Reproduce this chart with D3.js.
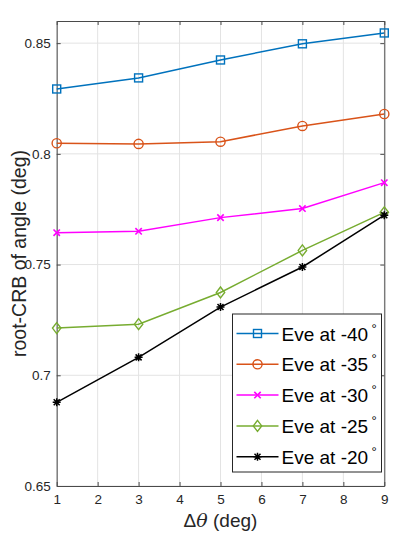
<!DOCTYPE html>
<html>
<head>
<meta charset="utf-8">
<script src="https://cdn.jsdelivr.net/npm/d3@7"></script>
<style>
  html, body { margin: 0; padding: 0; background: #fff; }
  svg { display: block; font-family: "Liberation Sans", Arial, sans-serif; }
</style>
</head>
<body>
<div id="chart"></div>
<script>
// Data
const dTheta = [1, 3, 5, 7, 9];
const eve40 = [0.8293, 0.8343, 0.8424, 0.8497, 0.8546];
const eve35 = [0.8048, 0.8045, 0.8055, 0.8126, 0.8180];
const eve30 = [0.7644, 0.7650, 0.7712, 0.7753, 0.7870];
const eve25 = [0.7213, 0.7231, 0.7374, 0.7564, 0.7736];
const eve20 = [0.6878, 0.7081, 0.7308, 0.7489, 0.7723];
const xTicks = [1, 2, 3, 4, 5, 6, 7, 8, 9];
const yTicks = [0.65, 0.7, 0.75, 0.8, 0.85];
const legendLabels = ["Eve at -40", "Eve at -35", "Eve at -30", "Eve at -25", "Eve at -20"];

const series = [
  { name: legendLabels[0], values: eve40, color: "#0072BD", marker: "square" },
  { name: legendLabels[1], values: eve35, color: "#D95319", marker: "circle" },
  { name: legendLabels[2], values: eve30, color: "#FF00FF", marker: "x" },
  { name: legendLabels[3], values: eve25, color: "#77AC30", marker: "diamond" },
  { name: legendLabels[4], values: eve20, color: "#000000", marker: "star" }
];

const W = 399, H = 533;
const M = { left: 56.7, right: W - 384.3, top: 21, bottom: H - 486 };
const AXIS = "#4a4a4a";
const GRID = "#e3e3e3";
const TEXT = "#262626";
const FONT = '"Liberation Sans", Arial, sans-serif';

const svg = d3.select("#chart").append("svg").attr("width", W).attr("height", H);

const x = d3.scaleLinear().domain([1, 9]).range([M.left, W - M.right]);
const y = d3.scaleLinear().domain([0.65, 0.86]).range([H - M.bottom, M.top]);

// grid
const grid = svg.append("g");
grid.selectAll("line.gx").data(xTicks).join("line")
  .attr("x1", (d) => x(d)).attr("x2", (d) => x(d))
  .attr("y1", y.range()[0]).attr("y2", y.range()[1])
  .attr("stroke", GRID).attr("stroke-width", 1);
grid.selectAll("line.gy").data(yTicks).join("line")
  .attr("y1", (d) => y(d)).attr("y2", (d) => y(d))
  .attr("x1", x.range()[0]).attr("x2", x.range()[1])
  .attr("stroke", GRID).attr("stroke-width", 1);

// axes (box with inward ticks)
const fmtY = (d) => (d === 0.7 ? "0.7" : d === 0.8 ? "0.8" : d3.format(".2f")(d));
function styleAxis(g) {
  g.attr("font-family", FONT).attr("font-size", 13.5);
  g.select(".domain").attr("stroke", AXIS).attr("stroke-width", 1);
  g.selectAll(".tick line").attr("stroke", AXIS);
  g.selectAll(".tick text").attr("fill", TEXT);
}
svg.append("g").attr("transform", `translate(0,${y.range()[0]})`)
  .call(d3.axisBottom(x).tickValues(xTicks).tickSizeInner(-4).tickSizeOuter(0).tickPadding(8).tickFormat(d3.format("d")))
  .call(styleAxis);
svg.append("g").attr("transform", `translate(0,${y.range()[1]})`)
  .call(d3.axisTop(x).tickValues(xTicks).tickSizeInner(-4).tickSizeOuter(0).tickFormat(""))
  .call(styleAxis);
svg.append("g").attr("transform", `translate(${x.range()[0]},0)`)
  .call(d3.axisLeft(y).tickValues(yTicks).tickSizeInner(-4).tickSizeOuter(0).tickPadding(6).tickFormat(fmtY))
  .call(styleAxis);
svg.append("g").attr("transform", `translate(${x.range()[1]},0)`)
  .call(d3.axisRight(y).tickValues(yTicks).tickSizeInner(-4).tickSizeOuter(0).tickFormat(""))
  .call(styleAxis);

// marker drawing
function drawMarker(g, type, color) {
  if (type === "square") {
    g.append("rect").attr("x", -4).attr("y", -4).attr("width", 8).attr("height", 8)
      .attr("fill", "none").attr("stroke", color).attr("stroke-width", 1.4);
  } else if (type === "circle") {
    g.append("circle").attr("r", 4.6).attr("fill", "none").attr("stroke", color).attr("stroke-width", 1.4);
  } else if (type === "x") {
    g.append("path").attr("d", "M-3.2,-3.2L3.2,3.2M-3.2,3.2L3.2,-3.2")
      .attr("stroke", color).attr("stroke-width", 1.6);
  } else if (type === "diamond") {
    g.append("path").attr("d", "M0,-5.5L4.2,0L0,5.5L-4.2,0Z")
      .attr("fill", "none").attr("stroke", color).attr("stroke-width", 1.4);
  } else if (type === "star") {
    g.append("path").attr("d", "M-4,0L4,0M0,-4L0,4M-3,-3L3,3M-3,3L3,-3")
      .attr("stroke", color).attr("stroke-width", 1.5);
  }
}

// lines
const line = d3.line().x((d, i) => x(dTheta[i])).y((d) => y(d));
const plot = svg.append("g");
series.forEach((s) => {
  plot.append("path").datum(s.values).attr("d", line)
    .attr("fill", "none").attr("stroke", s.color).attr("stroke-width", 1.5);
  plot.selectAll(null).data(s.values).join("g")
    .attr("transform", (d, i) => `translate(${x(dTheta[i])},${y(d)})`)
    .each(function () { drawMarker(d3.select(this), s.marker, s.color); });
});

// legend
const lg = svg.append("g").attr("transform", "translate(232.5,314)");
lg.append("rect").attr("width", 149).attr("height", 158)
  .attr("fill", "#fff").attr("stroke", TEXT).attr("stroke-width", 1);
series.forEach((s, i) => {
  const yy = 19.5 + i * 30.8;
  lg.append("line").attr("x1", 4).attr("x2", 46).attr("y1", yy).attr("y2", yy)
    .attr("stroke", s.color).attr("stroke-width", 1.5);
  drawMarker(lg.append("g").attr("transform", `translate(25,${yy})`), s.marker, s.color);
  lg.append("text").attr("x", 49).attr("y", yy + 7).attr("fill", "#000")
    .style("font-size", "19px").text(s.name);
  lg.append("text").attr("x", 141.5).attr("y", yy - 1).attr("fill", "#000")
    .attr("text-anchor", "middle").style("font-size", "13px").text("°");
});

// axis labels
svg.append("text").attr("x", (x.range()[0] + x.range()[1]) / 2).attr("y", 527)
  .attr("text-anchor", "middle").attr("fill", TEXT).style("font-size", "19px")
  .html('Δ<tspan font-style="italic" font-family="DejaVu Serif, serif">θ</tspan> (deg)');
svg.append("text")
  .attr("transform", `translate(26,${(y.range()[0] + y.range()[1]) / 2}) rotate(-90)`)
  .attr("text-anchor", "middle").attr("fill", TEXT).style("font-size", "19.5px")
  .text("root-CRB of angle (deg)");
</script>
</body>
</html>
